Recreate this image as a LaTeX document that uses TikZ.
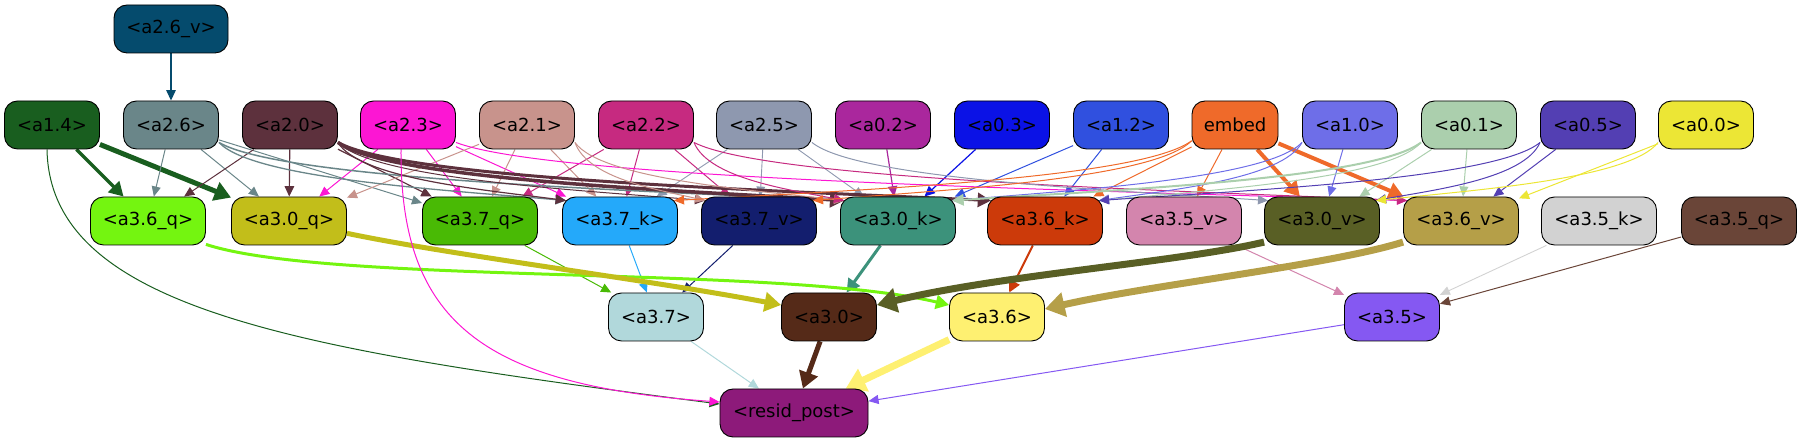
\documentclass[tikz,border=0pt]{standalone}
\usepackage{fontspec}
\setmainfont{DejaVu Sans}
\usetikzlibrary{arrows.meta}
\pgfdeclarelayer{bg}
\pgfsetlayers{bg,main}
\definecolor{c26v}{HTML}{054B6D}
\definecolor{c14}{HTML}{195E1F}
\definecolor{c26}{HTML}{6A8689}
\definecolor{c20}{HTML}{5D313D}
\definecolor{c23}{HTML}{FC16D3}
\definecolor{c21}{HTML}{C8938C}
\definecolor{c22}{HTML}{C62A80}
\definecolor{c25}{HTML}{8E98AF}
\definecolor{c02}{HTML}{AA279D}
\definecolor{c03}{HTML}{0B12E6}
\definecolor{c12}{HTML}{3050DF}
\definecolor{cemb}{HTML}{EF6A2A}
\definecolor{c10}{HTML}{6E6EE8}
\definecolor{c01}{HTML}{ABCFAD}
\definecolor{c05}{HTML}{533FB3}
\definecolor{c00}{HTML}{ECE635}
\definecolor{c36q}{HTML}{74F510}
\definecolor{c30q}{HTML}{C2BE1A}
\definecolor{c37q}{HTML}{49BA05}
\definecolor{c37k}{HTML}{24A9FA}
\definecolor{c37v}{HTML}{131E6E}
\definecolor{c30k}{HTML}{3C927B}
\definecolor{c36k}{HTML}{CC3A0A}
\definecolor{c35v}{HTML}{D385AD}
\definecolor{c30v}{HTML}{595F25}
\definecolor{c36v}{HTML}{B59F48}
\definecolor{c35k}{HTML}{D2D2D2}
\definecolor{c35q}{HTML}{6A4538}
\definecolor{c37}{HTML}{B1D8DB}
\definecolor{c30}{HTML}{552A18}
\definecolor{c36}{HTML}{FEF071}
\definecolor{c35}{HTML}{8558F2}
\definecolor{cres}{HTML}{8D1A7A}
\tikzset{
  box/.style={draw=black, line width=0.9pt, rounded corners=13pt, minimum height=48pt,
    inner sep=0pt, text=black, font=\fontsize{18}{20}\selectfont},
  wa/.style={box, minimum width=95pt},
  wb/.style={box, minimum width=115pt},
  e/.style={-{Triangle[length=8.5pt 1.6,width=6.5pt 2.5]}, line width=1pt},
}
\begin{document}
\begin{tikzpicture}[x=1pt,y=1pt]
\useasboundingbox (0,0) rectangle (1803,443);
% row 0
\node[box, minimum width=114pt, fill=c26v] (n26v) at (171,414) {<a2.6\_v>};
% row 1
\node[wa, fill=c14] (n14) at (52,318) {<a1.4>};
\node[wa, fill=c26] (n26) at (171,318) {<a2.6>};
\node[wa, fill=c20] (n20) at (290,318) {<a2.0>};
\node[wa, fill=c23] (n23) at (408,318) {<a2.3>};
\node[wa, fill=c21] (n21) at (527,318) {<a2.1>};
\node[wa, fill=c22] (n22) at (646,318) {<a2.2>};
\node[wa, fill=c25] (n25) at (764,318) {<a2.5>};
\node[wa, fill=c02] (n02) at (883,318) {<a0.2>};
\node[wa, fill=c03] (n03) at (1002,318) {<a0.3>};
\node[wa, fill=c12] (n12) at (1121,318) {<a1.2>};
\node[box, minimum width=86pt, fill=cemb] (nemb) at (1235,318) {embed};
\node[wa, fill=c10] (n10) at (1350,318) {<a1.0>};
\node[wa, fill=c01] (n01) at (1469,318) {<a0.1>};
\node[wa, fill=c05] (n05) at (1588,318) {<a0.5>};
\node[wa, fill=c00] (n00) at (1706,318) {<a0.0>};
% row 2
\node[wb, fill=c36q] (n36q) at (148,222) {<a3.6\_q>};
\node[wb, fill=c30q] (n30q) at (289,222) {<a3.0\_q>};
\node[wb, fill=c37q] (n37q) at (480,222) {<a3.7\_q>};
\node[wb, fill=c37k] (n37k) at (620,222) {<a3.7\_k>};
\node[wb, fill=c37v] (n37v) at (759,222) {<a3.7\_v>};
\node[wb, fill=c30k] (n30k) at (898,222) {<a3.0\_k>};
\node[wb, fill=c36k] (n36k) at (1045,222) {<a3.6\_k>};
\node[wb, fill=c35v] (n35v) at (1184,222) {<a3.5\_v>};
\node[wb, fill=c30v] (n30v) at (1322,222) {<a3.0\_v>};
\node[wb, fill=c36v] (n36v) at (1461,222) {<a3.6\_v>};
\node[wb, fill=c35k] (n35k) at (1599,222) {<a3.5\_k>};
\node[wb, fill=c35q] (n35q) at (1739,222) {<a3.5\_q>};
% row 3
\node[wa, fill=c37] (n37) at (656,126) {<a3.7>};
\node[wa, fill=c30] (n30) at (829,126) {<a3.0>};
\node[wa, fill=c36] (n36) at (997,126) {<a3.6>};
\node[wa, fill=c35] (n35) at (1392,126) {<a3.5>};
% row 4
\node[box, minimum width=148pt, fill=cres] (nres) at (794,30) {<resid\_post>};

\begin{pgfonlayer}{bg}
% straight edges row0/1 -> row1/2
\draw[e, color=c26v, line width=1.2pt] (n26v) -- (n26);
\draw[e, color=c14, line width=3.5pt] (n14) -- (n36q);
\draw[e, color=c14, line width=5pt] (n14) -- (n30q);
\draw[e, color=c26] (n26) -- (n36q);
\draw[e, color=c26] (n26) -- (n30q);
\draw[e, color=c26] (n26) -- (n37q);
\draw[e, color=c20] (n20) -- (n36q);
\draw[e, color=c20, line width=1.2pt] (n20) -- (n30q);
\draw[e, color=c20, line width=1.2pt] (n20) -- (n37q);
\draw[e, color=c23] (n23) -- (n30q);
\draw[e, color=c23] (n23) -- (n37q);
\draw[e, color=c23] (n23) -- (n37k);
\draw[e, color=c21] (n21) -- (n30q);
\draw[e, color=c21] (n21) -- (n37q);
\draw[e, color=c21] (n21) -- (n37k);
\draw[e, color=c22] (n22) -- (n37q);
\draw[e, color=c22] (n22) -- (n37k);
\draw[e, color=c22] (n22) -- (n37v);
\draw[e, color=c25, line width=0.9pt] (n25) -- (n37k);
\draw[e, color=c25, line width=0.9pt] (n25) -- (n37v);
\draw[e, color=c25, line width=0.9pt] (n25) -- (n30k);
\draw[e, color=c02, line width=1.2pt] (n02) -- (n30k);
\draw[e, color=c03, line width=1.2pt] (n03) -- (n30k);
\draw[e, color=c12] (n12) -- (n30k);
\draw[e, color=c12] (n12) -- (n36k);
\draw[e, color=cemb] (nemb) -- (n36k);
\draw[e, color=cemb] (nemb) -- (n35v);
\draw[e, color=cemb, line width=4pt] (nemb) -- (n30v);
\draw[e, color=cemb, line width=4pt] (nemb) -- (n36v);
\draw[e, color=c10] (n10) -- (n30v);
\draw[e, color=c01] (n01) -- (n30v);
\draw[e, color=c01] (n01) -- (n36v);
\draw[e, color=c05] (n05) -- (n36v);
\draw[e, color=c00] (n00) -- (n36v);
% long rightward curves
\draw[e, color=c26, line width=1.3pt] (n26.-20) .. controls (253,264) and (445,253) .. ([xshift=4pt,yshift=-4pt]n37k.north west);
\draw[e, color=c26, line width=1.5pt] (n26.-20) .. controls (281,264) and (625,253) .. ([xshift=4pt,yshift=-4pt]n30k.north west);
\draw[e, color=c20, line width=1.2pt] (n20.-20) .. controls (360,264) and (486,253) .. ([xshift=4pt,yshift=-4pt]n37k.north west);
\draw[e, color=c20] (n20.-20) .. controls (374,264) and (577,253) .. ([xshift=4pt,yshift=-4pt]n37v.north west);
\draw[e, color=c20, line width=3.5pt] (n20.-20) .. controls (388,264) and (667,253) .. ([xshift=4pt,yshift=-4pt]n30k.north west);
\draw[e, color=c20, line width=3pt] (n20.-20) .. controls (403,264) and (763,253) .. ([xshift=4pt,yshift=-4pt]n36k.north west);
\draw[e, color=c23] (n23.-20) .. controls (551,264) and (1074,253) .. ([xshift=4pt,yshift=-4pt]n36v.north west);
\draw[e, color=c21] (n21.-20) .. controls (588,264) and (660,253) .. ([xshift=4pt,yshift=-4pt]n37v.north west);
\draw[e, color=c21] (n21.-20) .. controls (601,264) and (750,253) .. ([xshift=4pt,yshift=-4pt]n30k.north west);
\draw[e, color=c22] (n22.-20) .. controls (709,264) and (792,253) .. ([xshift=4pt,yshift=-4pt]n30k.north west);
\draw[e, color=c22] (n22.-20) .. controls (765,264) and (1158,253) .. ([xshift=4pt,yshift=-4pt]n36v.north west);
\draw[e, color=c25] (n25.-20) .. controls (857,264) and (1108,253) .. ([xshift=4pt,yshift=-4pt]n30v.north west);
% long leftward curves
\draw[e, color=cemb] (nemb.200) .. controls (1140,264) and (855,253) .. ([xshift=-4pt,yshift=-4pt]n37k.north east);
\draw[e, color=cemb] (nemb.200) .. controls (1154,264) and (945,253) .. ([xshift=-4pt,yshift=-4pt]n37v.north east);
\draw[e, color=c10] (n10.200) .. controls (1267,264) and (1074,253) .. ([xshift=-4pt,yshift=-4pt]n30k.north east);
\draw[e, color=c10] (n10.200) .. controls (1282,264) and (1170,253) .. ([xshift=-4pt,yshift=-4pt]n36k.north east);
\draw[e, color=c01, line width=2pt] (n01.200) .. controls (1374,264) and (1116,253) .. ([xshift=-4pt,yshift=-4pt]n30k.north east);
\draw[e, color=c01] (n01.200) .. controls (1389,264) and (1212,253) .. ([xshift=-4pt,yshift=-4pt]n36k.north east);
\draw[e, color=c05] (n05.200) .. controls (1496,264) and (1253,253) .. ([xshift=-4pt,yshift=-4pt]n36k.north east);
\draw[e, color=c05] (n05.200) .. controls (1524,264) and (1433,253) .. ([xshift=-4pt,yshift=-4pt]n30v.north east);
\draw[e, color=c00] (n00.200) .. controls (1630,264) and (1475,253) .. ([xshift=-4pt,yshift=-4pt]n30v.north east);
% row 2 -> row 3
\draw[e, color=c37q] (n37q) -- (n37);
\draw[e, color=c37k] (n37k) -- (n37);
\draw[e, color=c37v] (n37v) -- (n37);
\draw[e, color=c30k, line width=3pt] (n30k) -- (n30);
\draw[e, color=c36k, line width=2pt] (n36k) -- (n36);
\draw[e, color=c35v] (n35v) -- (n35);
\draw[e, color=c35k, line width=0.9pt] (n35k) -- (n35);
\draw[e, color=c35q] (n35q) -- (n35);
\draw[e, color=c36q, line width=3pt] (n36q.-22) .. controls (330,158) and (780,178) .. ([yshift=12pt]n36.west);
\draw[e, color=c30q, line width=5pt] (n30q.-12) .. controls (450,188) and (650,163) .. ([yshift=12pt]n30.west);
\draw[e, color=c30v, line width=7pt] (n30v.200) .. controls (1180,181) and (1000,168) .. ([yshift=12pt]n30.east);
\draw[e, color=c36v, line width=7pt] (n36v.200) .. controls (1330,178) and (1150,158) .. ([yshift=8pt]n36.east);
% row 3 -> resid
\draw[e, color=c37] (n37) -- (nres);
\draw[e, color=c30, line width=5pt] (n30) -- (nres);
\draw[e, color=c36, line width=7pt] (n36) -- (nres);
\draw[e, color=c35] (n35) -- (nres);
\draw[e, color=c14] ([xshift=-5pt]n14.south) .. controls (50,133) and (300,93) .. ([yshift=9pt]nres.west);
\draw[e, color=c23] ([xshift=-7pt]n23.south) .. controls (400,123) and (480,58) .. ([yshift=11pt]nres.west);
\end{pgfonlayer}
\end{tikzpicture}
\end{document}
